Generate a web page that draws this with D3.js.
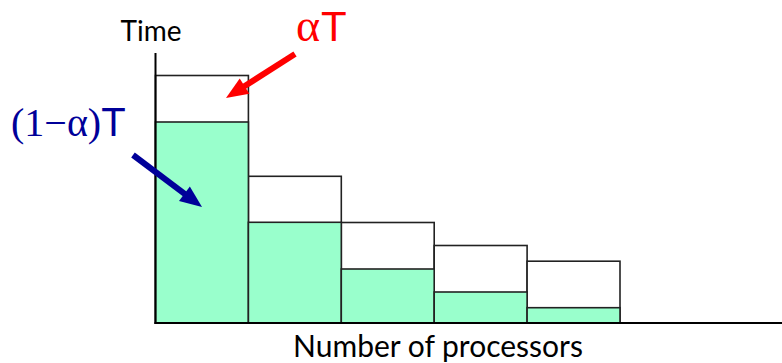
<!DOCTYPE html>
<html>
<head>
<meta charset="utf-8">
<script src="https://cdn.jsdelivr.net/npm/d3@7/dist/d3.min.js"></script>
<style>
html,body{margin:0;padding:0;background:#fff;}
svg{display:block;}
</style>
</head>
<body>
<svg id="chart" width="782" height="363"></svg>
<script>
// Data (arbitrary time units)
const categories = ["1", "2", "3", "4", "5"];
const serialTime = [46.5, 46, 46.5, 46.5, 46.5];     // αT part (white)
const parallelTime = [201, 100.7, 54, 31, 15.3];      // (1-α)T part (green)
const yAxisLabel = "Time";
const xAxisLabel = "Number of processors";

const svg = d3.select("#chart");
const W = 782, H = 363;
const x0 = 155.5, x1 = 620, baseY = 323, topY = 53;

const x = d3.scaleBand().domain(categories).range([x0, x1]).padding(0);
const y = d3.scaleLinear().domain([0, 270]).range([baseY, topY]);

const g = svg.append("g");

// total (white) bars
g.selectAll("rect.total").data(categories).join("rect")
  .attr("class", "total")
  .attr("x", d => x(d))
  .attr("width", x.bandwidth())
  .attr("y", (d, i) => y(serialTime[i] + parallelTime[i]))
  .attr("height", (d, i) => y(0) - y(serialTime[i] + parallelTime[i]))
  .attr("fill", "#ffffff")
  .attr("stroke", "#222")
  .attr("stroke-width", 1.6);

// parallel (green) bars
g.selectAll("rect.par").data(categories).join("rect")
  .attr("class", "par")
  .attr("x", d => x(d))
  .attr("width", x.bandwidth())
  .attr("y", (d, i) => y(parallelTime[i]))
  .attr("height", (d, i) => y(0) - y(parallelTime[i]))
  .attr("fill", "#99ffcc")
  .attr("stroke", "#222")
  .attr("stroke-width", 1.6);

// axes lines
svg.append("line").attr("x1", x0).attr("x2", x0).attr("y1", topY).attr("y2", baseY + 1)
  .attr("stroke", "#000").attr("stroke-width", 2);
svg.append("line").attr("x1", x0 - 1).attr("x2", W).attr("y1", baseY).attr("y2", baseY)
  .attr("stroke", "#000").attr("stroke-width", 2.2);

// axis labels
svg.append("text").attr("x", 151).attr("y", 41).attr("text-anchor", "middle")
  .attr("font-family", "Lato, 'Open Sans', sans-serif").attr("font-size", 28)
  .attr("fill", "#000").text(yAxisLabel);
svg.append("text").attr("x", 438).attr("y", 357).attr("text-anchor", "middle")
  .attr("font-family", "Lato, 'Open Sans', sans-serif").attr("font-size", 30)
  .attr("fill", "#000").text(xAxisLabel);

// annotations
const red = "#ff0000", navy = "#000099";
const aT = svg.append("text").attr("x", 296).attr("y", 41)
  .attr("font-size", 42).attr("fill", red);
aT.append("tspan").attr("font-family", "'Liberation Serif', serif").attr("font-size", 46).text("α");
aT.append("tspan").attr("font-family", "'Liberation Sans', Arial, sans-serif").attr("dx", 1).text("T");

const pT = svg.append("text").attr("x", 11).attr("y", 136)
  .attr("font-size", 40).attr("fill", navy);
pT.append("tspan").attr("font-family", "'Liberation Serif', serif").text("(1−α)");
pT.append("tspan").attr("font-family", "'Liberation Sans', Arial, sans-serif").text("T");

function arrow(xs, ys, xt, yt, color, lw, hl, hw) {
  const dx = xt - xs, dy = yt - ys, L = Math.hypot(dx, dy);
  const ux = dx / L, uy = dy / L, px = -uy, py = ux;
  const bx = xt - ux * hl, by = yt - uy * hl;
  svg.append("line").attr("x1", xs).attr("y1", ys).attr("x2", bx + ux * 2).attr("y2", by + uy * 2)
    .attr("stroke", color).attr("stroke-width", lw);
  svg.append("polygon")
    .attr("points", [[xt, yt], [bx + px * hw / 2, by + py * hw / 2], [bx - px * hw / 2, by - py * hw / 2]].map(p => p.join(",")).join(" "))
    .attr("fill", color);
}
arrow(295, 54, 226, 98, red, 6, 22, 18);
arrow(133, 155, 202, 207, navy, 6, 22, 18);
</script>
</body>
</html>
